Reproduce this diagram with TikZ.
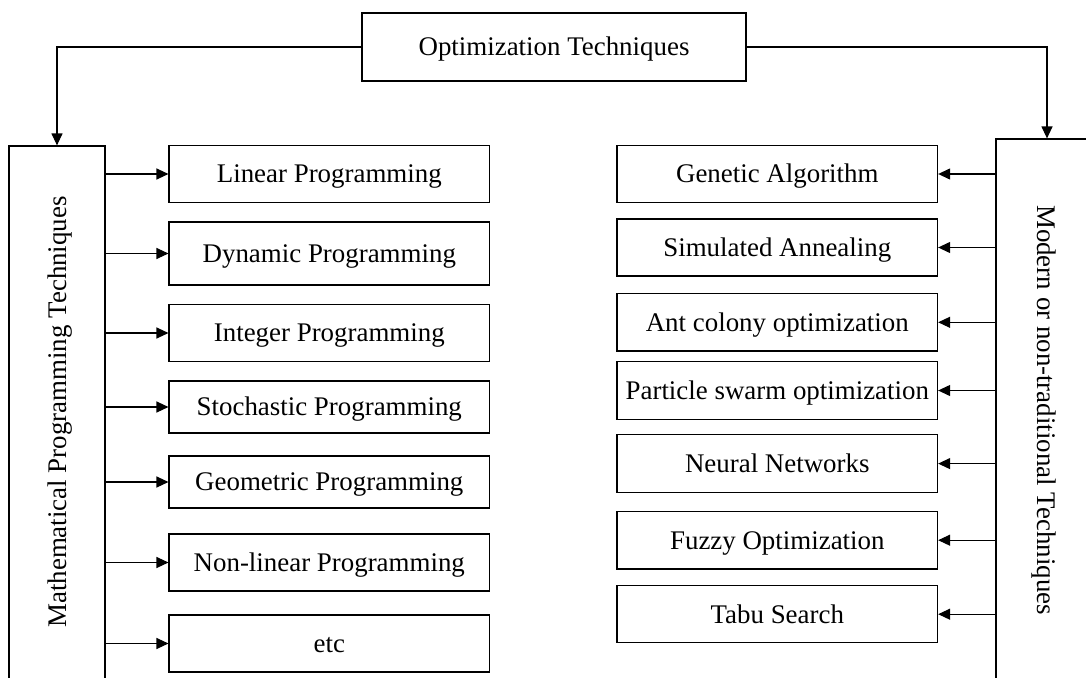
\documentclass[tikz,border=0pt]{standalone}
\usepackage{fontspec}
\setmainfont{Liberation Serif}
\usetikzlibrary{arrows.meta}
\begin{document}
\begin{tikzpicture}[x=1pt,y=-1pt,
  every node/.style={font=\fontsize{26.9}{32}\selectfont},
  box/.style={draw, line width=1.2pt, inner sep=0pt, text height=17.8pt, text depth=0pt},
  item/.style={box, minimum width=320.5pt},
  group/.style={draw, line width=1.2pt, inner sep=0pt, minimum height=600pt},
  link/.style={line width=1.2pt, -{Triangle[length=12pt,width=11pt]}}
]
\useasboundingbox (0,0) rectangle (1086,677);
\fill[white] (0,0) rectangle (1086,677);
\clip (0,0) rectangle (1086,677);

% root
\node[box, minimum width=384pt, minimum height=68pt] (top) at (554,47) {Optimization Techniques};

% the two families (tall boxes running off the page)
\node[group, minimum width=96pt] (math) at (57,446) {};
\node[group, minimum width=102pt] (mod) at (1047,439) {};
\node[rotate=90, anchor=base, inner sep=0pt] (mathlabel) at (66.7,412) {Mathematical Programming Techniques};
\node[rotate=-90, anchor=base, inner sep=0pt] (modlabel) at (1037,410) {Modern or non-traditional Techniques};

% mathematical programming techniques
\node[item, minimum height=56.5pt] (lp) at (329.3,174) {Linear Programming};
\node[item, minimum height=63pt] (dp) at (329.3,253.5) {Dynamic Programming};
\node[item, minimum height=57.5pt] (ip) at (329.3,333) {Integer Programming};
\node[item, minimum height=52pt] (sp) at (329.3,407) {Stochastic Programming};
\node[item, minimum height=52pt] (gp) at (329.3,482) {Geometric Programming};
\node[item, minimum height=57pt] (nlp) at (329.3,562.5) {Non-linear Programming};
\node[item, minimum height=57pt] (etc) at (329.3,643.5) {etc};

% modern techniques
\node[item, minimum height=56.5pt] (ga) at (777.3,174) {Genetic Algorithm};
\node[item, minimum height=57pt] (sa) at (777.3,247.5) {Simulated Annealing};
\node[item, minimum height=57.5pt] (aco) at (777.3,322.3) {Ant colony optimization};
\node[item, minimum height=57.5pt] (pso) at (777.3,390.5) {Particle swarm optimization};
\node[item, minimum height=57.5pt] (nn) at (777.3,463.6) {Neural Networks};
\node[item, minimum height=57.5pt] (fo) at (777.3,540.2) {Fuzzy Optimization};
\node[item, minimum height=57pt] (ts) at (777.3,614.2) {Tabu Search};

% connectors
\draw[link] (top.west) -| (math.north);
\draw[link] (top.east) -| (mod.north);
\foreach \n in {lp,dp,ip,sp,gp,nlp,etc}
  \draw[link] (math.east |- \n.west) -- (\n.west);
\foreach \n in {ga,sa,aco,pso,nn,fo,ts}
  \draw[link] (mod.west |- \n.east) -- (\n.east);
\end{tikzpicture}
\end{document}
